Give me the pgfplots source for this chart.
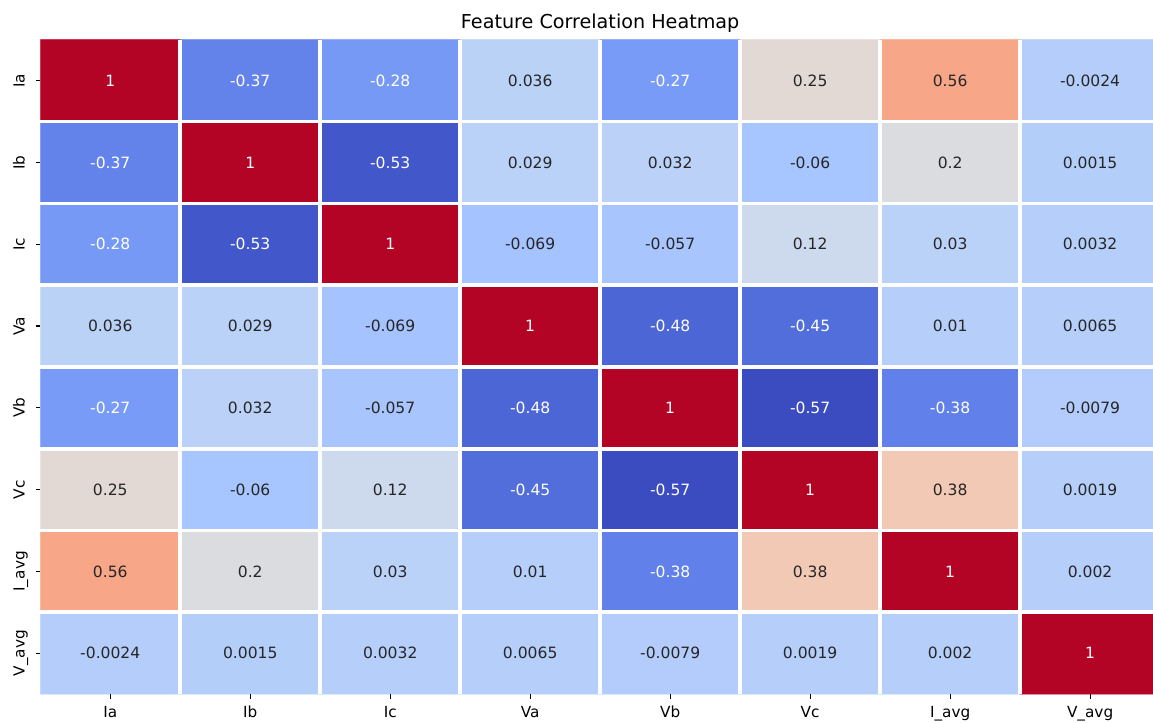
\documentclass[border=0pt]{standalone}
\usepackage{pgfplots}
\pgfplotsset{compat=1.18}
\usepackage{fontspec}
\setmainfont{DejaVu Sans}
\definecolor{darktxt}{RGB}{38,38,38}
\pgfplotsset{
  colormap={coolwarm}{
    rgb255=(59,76,192) rgb255=(68,90,204) rgb255=(77,104,215) rgb255=(87,117,225)
    rgb255=(98,130,234) rgb255=(108,142,241) rgb255=(119,154,247) rgb255=(130,165,251)
    rgb255=(141,176,254) rgb255=(152,185,255) rgb255=(163,194,255) rgb255=(174,201,253)
    rgb255=(184,208,249) rgb255=(194,213,244) rgb255=(204,217,238) rgb255=(213,219,230)
    rgb255=(221,221,221) rgb255=(229,216,209) rgb255=(236,211,197) rgb255=(241,204,185)
    rgb255=(245,196,173) rgb255=(247,187,160) rgb255=(247,177,148) rgb255=(247,166,135)
    rgb255=(244,154,123) rgb255=(241,141,111) rgb255=(236,127,99) rgb255=(229,112,88)
    rgb255=(222,96,77) rgb255=(213,80,66) rgb255=(203,62,56) rgb255=(192,40,47)
    rgb255=(180,4,38)
  }
}
\pgfplotstableread{
x y c
0 0 -0.0024
1 0 0.0015
2 0 0.0032
3 0 0.0065
4 0 -0.0079
5 0 0.0019
6 0 0.002
7 0 1
0 1 0.56
1 1 0.2
2 1 0.03
3 1 0.01
4 1 -0.38
5 1 0.38
6 1 1
7 1 0.002
0 2 0.25
1 2 -0.06
2 2 0.12
3 2 -0.45
4 2 -0.57
5 2 1
6 2 0.38
7 2 0.0019
0 3 -0.27
1 3 0.032
2 3 -0.057
3 3 -0.48
4 3 1
5 3 -0.57
6 3 -0.38
7 3 -0.0079
0 4 0.036
1 4 0.029
2 4 -0.069
3 4 1
4 4 -0.48
5 4 -0.45
6 4 0.01
7 4 0.0065
0 5 -0.28
1 5 -0.53
2 5 1
3 5 -0.069
4 5 -0.057
5 5 0.12
6 5 0.03
7 5 0.0032
0 6 -0.37
1 6 1
2 6 -0.53
3 6 0.029
4 6 0.032
5 6 -0.06
6 6 0.2
7 6 0.0015
0 7 1
1 7 -0.37
2 7 -0.28
3 7 0.036
4 7 -0.27
5 7 0.25
6 7 0.56
7 7 -0.0024
}\corrtable
\begin{document}
\begin{tikzpicture}
\begin{axis}[
  width=806.2bp, height=471.1bp, scale only axis,
  xmin=-0.5, xmax=7.5, ymin=-0.5, ymax=7.5,
  enlargelimits=false,
  colormap name=coolwarm,
  point meta min=-0.57, point meta max=1,
  axis on top,
  axis line style={draw=none},
  xtick={0,1,2,3,4,5,6,7},
  xticklabels={Ia,Ib,Ic,Va,Vb,Vc,I\_avg,V\_avg},
  ytick={0,1,2,3,4,5,6,7},
  yticklabels={V\_avg,I\_avg,Vc,Vb,Va,Ic,Ib,Ia},
  minor xtick={0.5,1.5,2.5,3.5,4.5,5.5,6.5},
  minor ytick={0.5,1.5,2.5,3.5,4.5,5.5,6.5},
  xminorgrids=true, yminorgrids=true,
  minor grid style={white, line width=2.6bp},
  minor tick length=0pt,
  tick align=outside,
  xtick pos=bottom, ytick pos=left,
  major tick length=3.4bp,
  every tick/.style={black, line width=0.8bp},
  tick label style={font=\fontsize{11bp}{13bp}\selectfont, text=black},
  xticklabel style={inner sep=0pt, anchor=base, yshift=-13.5bp},
  yticklabel style={xshift=-7.9bp, rotate=90, anchor=base, inner sep=0pt},
  title={Feature Correlation Heatmap},
  title style={at={(0.5,1)}, anchor=base, yshift=2.2bp, inner sep=0pt,
    font=\fontsize{13.8bp}{16bp}\selectfont},
]
\addplot[matrix plot*, mesh/cols=8, point meta=explicit] table[x=x, y=y, meta=c] {\corrtable};
\addplot[draw=none, mark=none, nodes near coords, nodes near coords align=center,
  point meta=explicit symbolic,
  every node near coord/.append style={text=white, anchor=center, font=\fontsize{11.2bp}{13bp}\selectfont}]
  coordinates {
  (0,7) [1] (1,7) [-0.37] (2,7) [-0.28] (4,7) [-0.27]
  (0,6) [-0.37] (1,6) [1] (2,6) [-0.53]
  (0,5) [-0.28] (1,5) [-0.53] (2,5) [1]
  (3,4) [1] (4,4) [-0.48] (5,4) [-0.45]
  (0,3) [-0.27] (3,3) [-0.48] (4,3) [1] (5,3) [-0.57] (6,3) [-0.38]
  (3,2) [-0.45] (4,2) [-0.57] (5,2) [1]
  (4,1) [-0.38] (6,1) [1]
  (7,0) [1]
  };
\addplot[draw=none, mark=none, nodes near coords, nodes near coords align=center,
  point meta=explicit symbolic,
  every node near coord/.append style={text=darktxt, anchor=center, font=\fontsize{11.2bp}{13bp}\selectfont}]
  coordinates {
  (3,7) [0.036] (5,7) [0.25] (6,7) [0.56] (7,7) [-0.0024]
  (3,6) [0.029] (4,6) [0.032] (5,6) [-0.06] (6,6) [0.2] (7,6) [0.0015]
  (3,5) [-0.069] (4,5) [-0.057] (5,5) [0.12] (6,5) [0.03] (7,5) [0.0032]
  (0,4) [0.036] (1,4) [0.029] (2,4) [-0.069] (6,4) [0.01] (7,4) [0.0065]
  (1,3) [0.032] (2,3) [-0.057] (7,3) [-0.0079]
  (0,2) [0.25] (1,2) [-0.06] (2,2) [0.12] (6,2) [0.38] (7,2) [0.0019]
  (0,1) [0.56] (1,1) [0.2] (2,1) [0.03] (3,1) [0.01] (5,1) [0.38] (7,1) [0.002]
  (0,0) [-0.0024] (1,0) [0.0015] (2,0) [0.0032] (3,0) [0.0065] (4,0) [-0.0079] (5,0) [0.0019] (6,0) [0.002]
  };
\end{axis}
\pgfresetboundingbox
\useasboundingbox (-29.0bp,-20.2bp) rectangle (801.1bp,499.7bp);
\end{tikzpicture}
\end{document}
